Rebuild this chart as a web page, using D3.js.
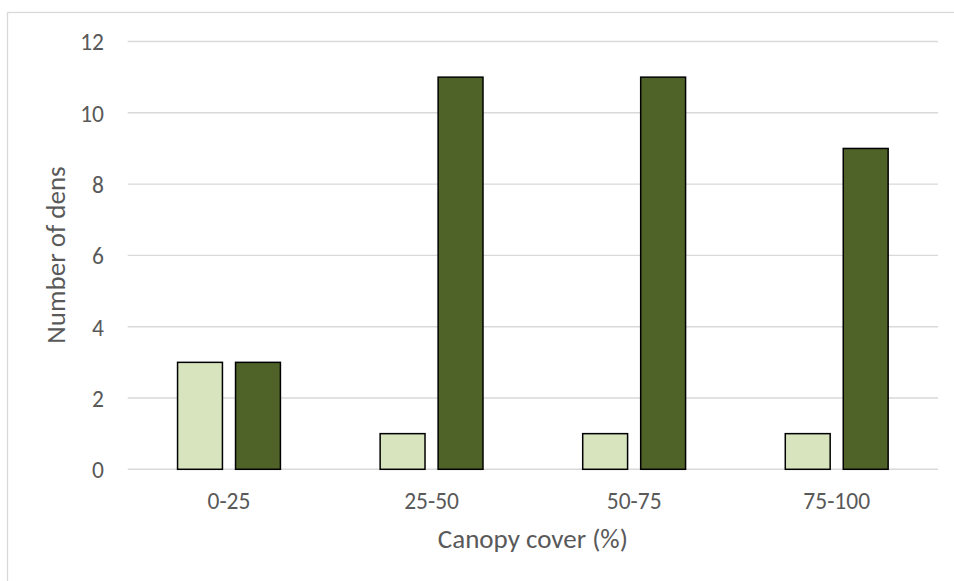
<!DOCTYPE html>
<html>
<head>
<meta charset="utf-8">
<script src="https://cdn.jsdelivr.net/npm/d3@7"></script>
<style>
  html, body { margin: 0; padding: 0; background: #ffffff; }
  svg { display: block; }
  text { font-family: Carlito, Calibri, Lato, sans-serif; fill: #595959; }
</style>
</head>
<body>
<svg id="chart" width="954" height="581"></svg>
<script>
// Den counts per canopy-cover class
const categories = ["0-25", "25-50", "50-75", "75-100"];
const seriesNames = ["Series A", "Series B"];
const seriesA = [3, 1, 1, 1];
const seriesB = [3, 11, 11, 9];
const yTicks = [0, 2, 4, 6, 8, 10, 12];
const xTitle = "Canopy cover (%)";
const yTitle = "Number of dens";
const colors = ["#D7E4BD", "#4F6228"];

const svg = d3.select("#chart");
const W = 954, H = 581;
const plot = { left: 127.7, right: 938, top: 41.5, bottom: 469.3 };

// Outer chart border
svg.append("rect")
  .attr("x", 7.5).attr("y", 12.5)
  .attr("width", W + 20).attr("height", H + 20)
  .attr("fill", "none").attr("stroke", "#D9D9D9").attr("stroke-width", 1.3);

const y = d3.scaleLinear().domain([0, 12]).range([plot.bottom, plot.top]);
const x0 = d3.scaleBand().domain(categories).range([plot.left, plot.right]);
const x1 = d3.scaleBand().domain(seriesNames).range([0, x0.bandwidth()])
  .paddingInner(0.2).paddingOuter(0.847);

// Horizontal gridlines
svg.append("g").selectAll("line").data(yTicks).join("line")
  .attr("x1", plot.left).attr("x2", plot.right)
  .attr("y1", d => y(d)).attr("y2", d => y(d))
  .attr("stroke", "#D9D9D9").attr("stroke-width", 1.4);

// Y-axis tick labels
const yAxis = d3.axisLeft(y).tickValues(yTicks).tickSize(0).tickPadding(0);
const gy = svg.append("g").attr("transform", `translate(${104},0)`).call(yAxis);
gy.select(".domain").remove();
gy.selectAll("text").style("font-size", "23.5px").attr("fill", "#595959")
  .attr("dy", "0.36em").attr("text-anchor", "end");

// Bars
const rows = categories.map((c, i) => ({ cat: c, vals: [seriesA[i], seriesB[i]] }));
const groups = svg.append("g").selectAll("g").data(rows).join("g")
  .attr("transform", d => `translate(${x0(d.cat)},0)`);
groups.selectAll("rect")
  .data(d => d.vals.map((v, j) => ({ name: seriesNames[j], v, j })))
  .join("rect")
  .attr("x", d => x1(d.name) + 0.75)
  .attr("width", x1.bandwidth() - 1.5)
  .attr("y", d => y(d.v))
  .attr("height", d => y(0) - y(d.v))
  .attr("fill", d => colors[d.j])
  .attr("stroke", "#000000").attr("stroke-width", 1.5);

// X-axis category labels
const xAxis = d3.axisBottom(x0).tickSize(0).tickPadding(0);
const gx = svg.append("g").attr("transform", `translate(0,${501})`).call(xAxis);
gx.select(".domain").remove();
gx.selectAll("text").style("font-size", "23.5px").attr("fill", "#595959")
  .attr("y", 0).attr("dy", "0.36em");

// Axis titles
svg.append("text")
  .attr("x", (plot.left + plot.right) / 2).attr("y", 548)
  .attr("text-anchor", "middle").style("font-size", "27px")
  .text(xTitle);

svg.append("text")
  .attr("transform", `translate(${65},${255}) rotate(-90)`)
  .attr("text-anchor", "middle").style("font-size", "27px")
  .text(yTitle);
</script>
</body>
</html>
